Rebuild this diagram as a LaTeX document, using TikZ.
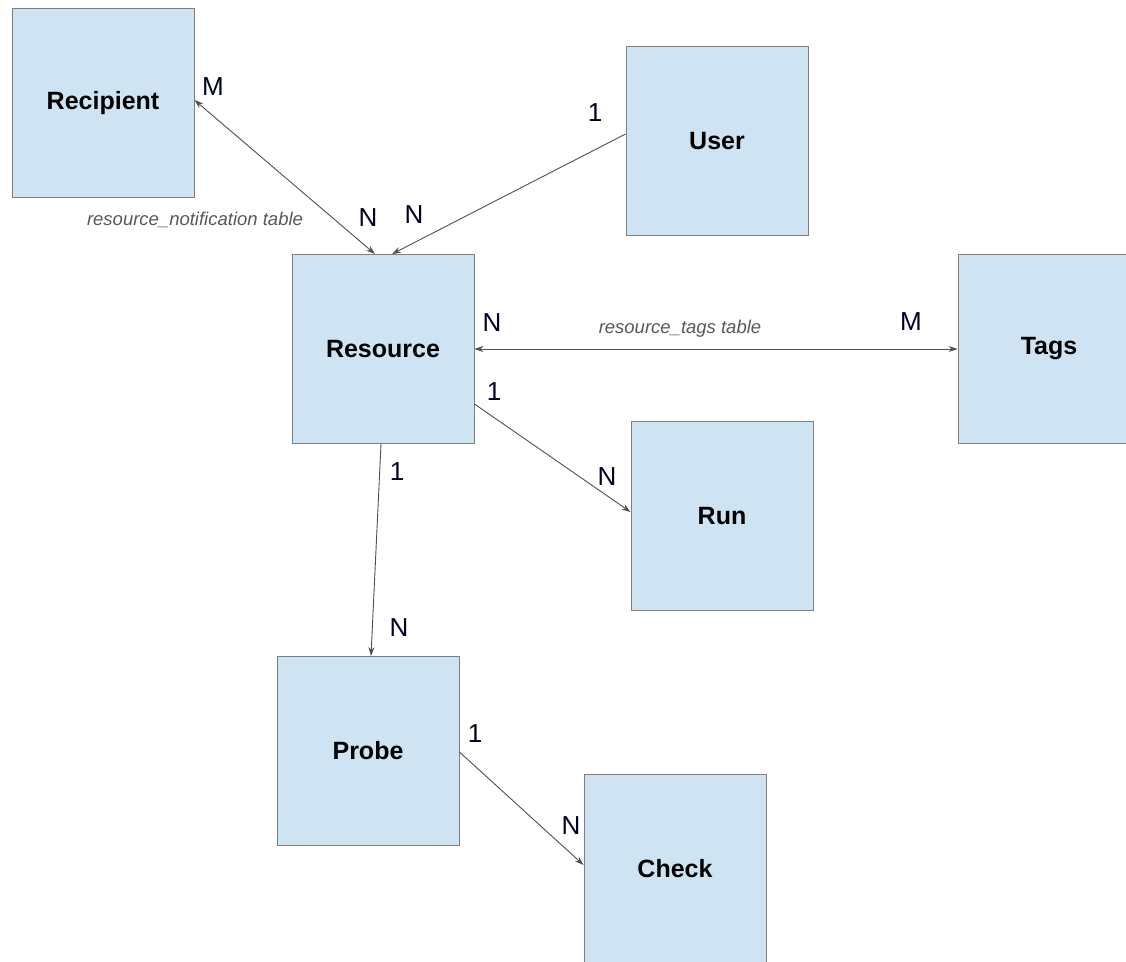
\documentclass[tikz,border=0pt]{standalone}
\usepackage{fontspec}
\setmainfont{Liberation Sans}
\usetikzlibrary{arrows.meta, positioning}

\definecolor{boxfill}{RGB}{207,228,243}
\definecolor{boxline}{RGB}{128,128,128}
\definecolor{linkline}{RGB}{80,80,80}

\begin{document}
\begin{tikzpicture}[x=1pt, y=-1pt, >={Stealth[length=9pt, width=6pt]},
    entity/.style={draw=boxline, fill=boxfill, line width=0.9pt, minimum width=182pt, minimum height=189pt, font=\bfseries\fontsize{25}{28}\selectfont},
    link/.style={draw=linkline, line width=0.9pt},
    card/.style={font=\fontsize{26}{28}\selectfont, text=black!85!blue, inner sep=0pt},
    tbl/.style={font=\itshape\fontsize{18.5}{20}\selectfont, text=black!65, inner sep=0pt}]
    % Canvas
    \useasboundingbox (0,0) rectangle (1126,961);
    \clip (0,0) rectangle (1126,961);
    \fill[white] (0,0) rectangle (1126,961);

    % Entities
    \node[entity] (recipient) at (103,103) {Recipient};
    \node[entity] (user) at (717,141) {User};
    \node[entity] (resource) at (383,349) {Resource};
    \node[entity] (tags) at (1049,349) {Tags};
    \node[entity] (run) at (722,516) {Run};
    \node[entity] (probe) at (368,751) {Probe};
    \node[entity] (check) at (675,869) {Check};

    % Relations
    \draw[link, <->] ([xshift=-8pt]resource.north) -- ([yshift=3pt]recipient.east);
    \draw[link, ->] ([yshift=7pt]user.west) -- ([xshift=9pt]resource.north);
    \draw[link, <->] (resource.east) -- (tags.west);
    \draw[link, ->] ([yshift=-55pt]resource.east) -- ([yshift=4pt]run.west);
    \draw[link, ->] ([xshift=-2pt]resource.south) -- ([xshift=3pt]probe.north);
    \draw[link, ->] ([yshift=-1pt]probe.east) -- ([yshift=4pt]check.west);

    % Cardinalities
    \node[card] (m1) at (213,87) {M};
    \node[card] (n1) at (368,218) {N};
    \node[card] (one1) at (595,113) {1};
    \node[card] (n2) at (414,215) {N};
    \node[card] (n3) at (492,323) {N};
    \node[card] (m2) at (911,322) {M};
    \node[card] (one2) at (494,392) {1};
    \node[card] (n4) at (607,477) {N};
    \node[card] (one3) at (397,472) {1};
    \node[card] (n5) at (399,628) {N};
    \node[card] (one4) at (475,734) {1};
    \node[card] (n6) at (571,826) {N};

    % Join tables
    \node[tbl] (notiftbl) at (195,220) {resource\_notification table};
    \node[tbl] (tagstbl) at (680,329) {resource\_tags table};
\end{tikzpicture}
\end{document}
